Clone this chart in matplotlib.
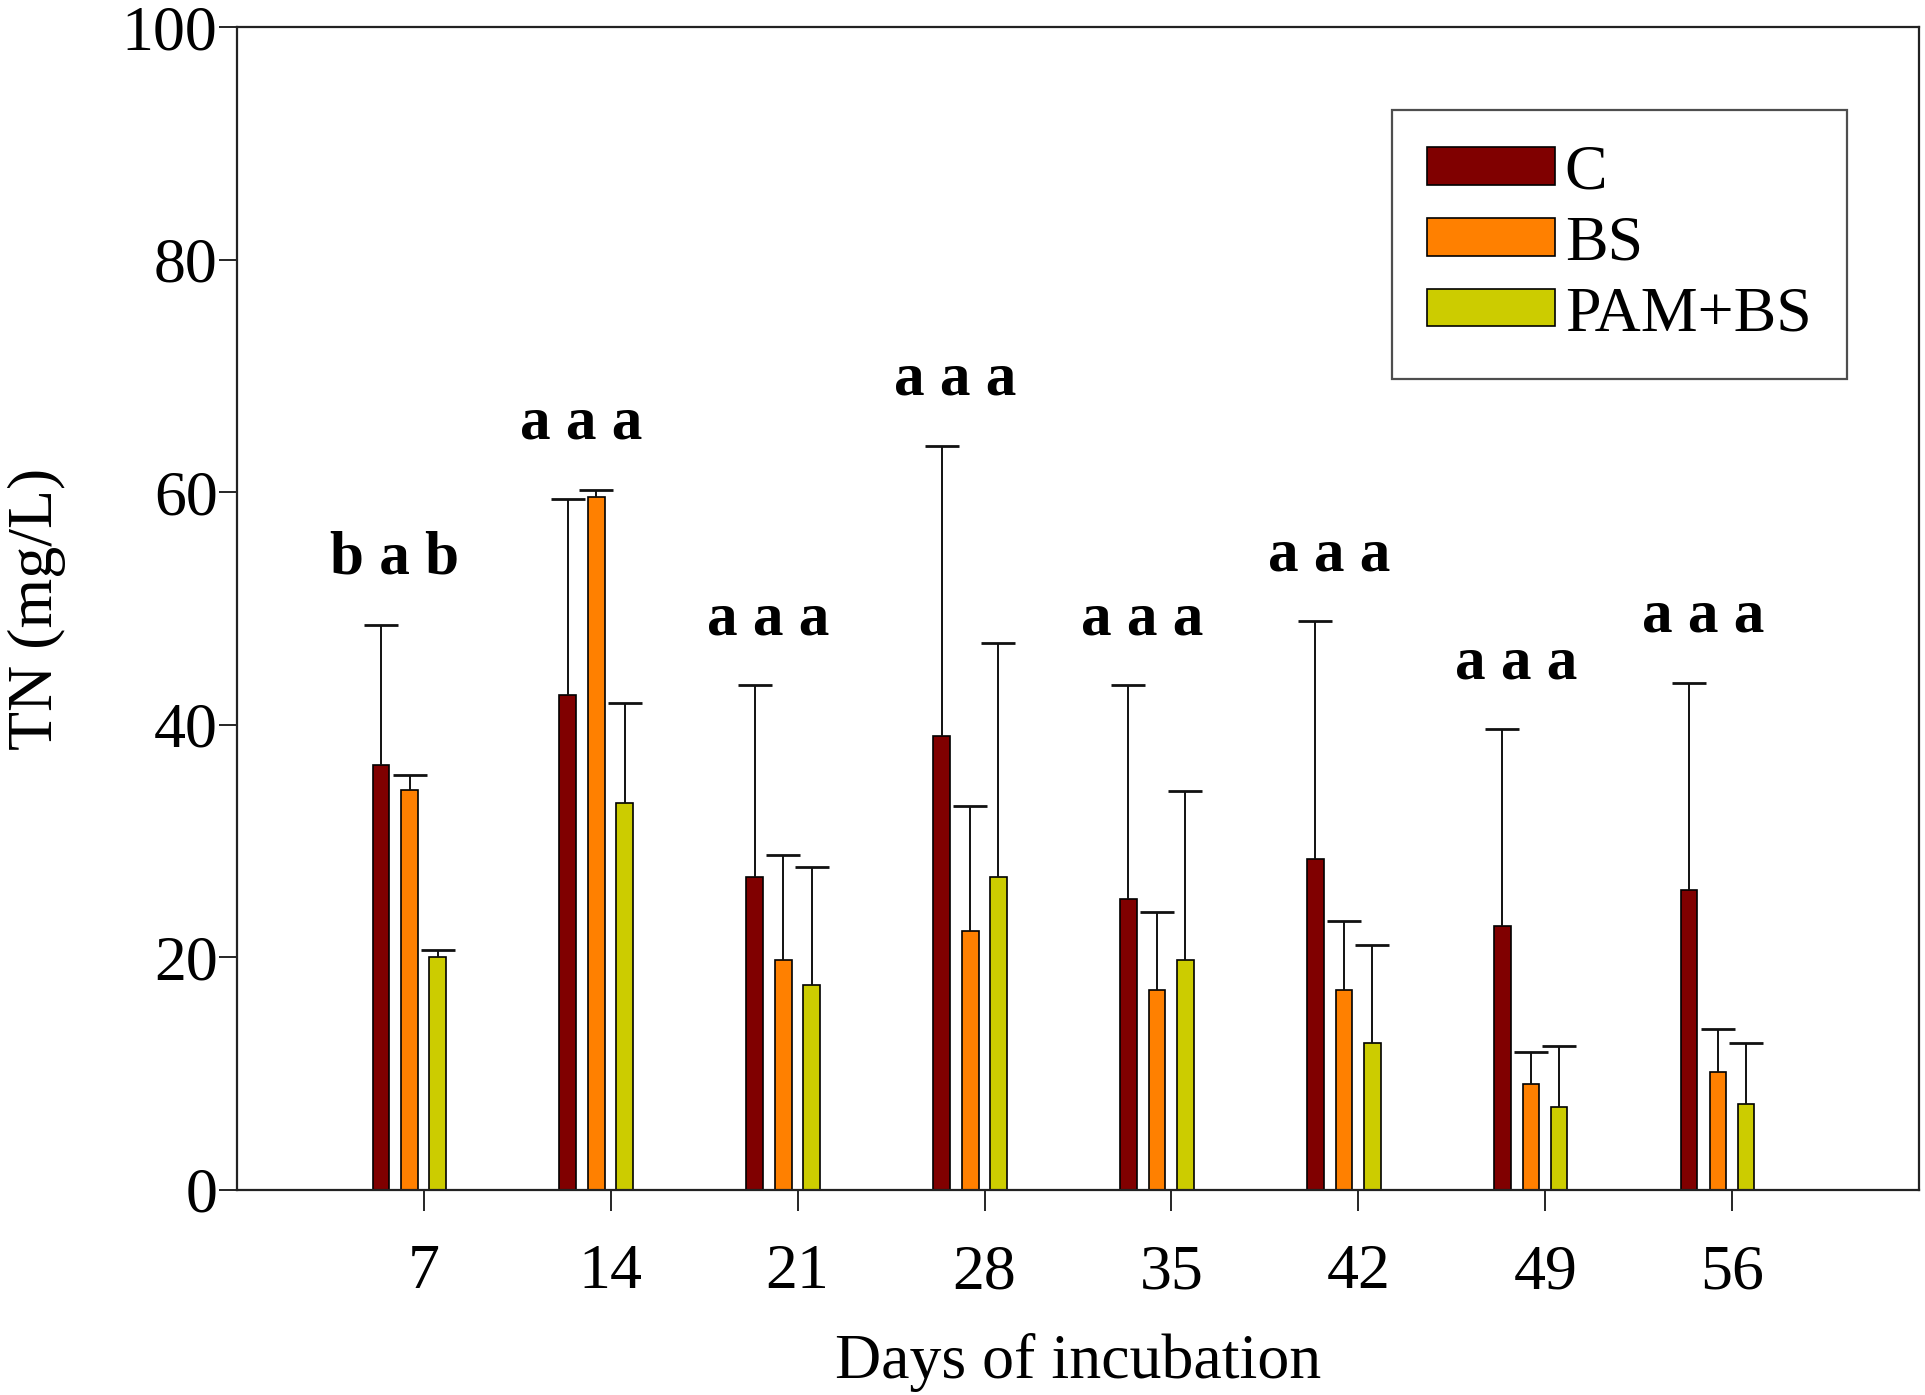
import matplotlib
matplotlib.use("Agg")
import matplotlib.pyplot as plt
import numpy as np

plt.rcParams['font.family'] = ['Liberation Serif', 'DejaVu Serif']

days = [7, 14, 21, 28, 35, 42, 49, 56]
series = ["C", "BS", "PAM+BS"]

c_mean = [36.5, 42.6, 26.9, 39.0, 25.0, 28.5, 22.7, 25.8]
c_sd = [12.1, 16.8, 16.5, 25.0, 18.4, 20.4, 16.9, 17.8]
bs_mean = [34.4, 59.6, 19.8, 22.3, 17.2, 17.2, 9.1, 10.1]
bs_sd = [1.3, 0.6, 9.0, 10.7, 6.7, 5.9, 2.8, 3.7]
pam_mean = [20.0, 33.3, 17.6, 26.9, 19.8, 12.6, 7.1, 7.4]
pam_sd = [0.6, 8.6, 10.2, 20.1, 14.5, 8.5, 5.3, 5.2]

letters = ["b a b", "a a a", "a a a", "a a a", "a a a", "a a a", "a a a", "a a a"]

colors = ["#800000", "#FF8000", "#CCCC00"]
offsets = [-1.61, -0.535, 0.52]
width = 0.62

fig = plt.figure(figsize=(19.25, 13.95), dpi=100)
ax = fig.add_axes([0.1231, 0.147, 0.8738, 0.8336])

x = np.array(days, dtype=float)
means = [c_mean, bs_mean, pam_mean]
sds = [c_sd, bs_sd, pam_sd]
handles = []
for k in range(3):
    m = np.array(means[k])
    s = np.array(sds[k])
    b = ax.bar(x + offsets[k], m, width, color=colors[k], edgecolor="black",
               linewidth=1.2, label=series[k], zorder=2)
    eb = ax.errorbar(x + offsets[k], m, yerr=[np.zeros_like(s), s], fmt="none",
                     ecolor="#111111", elinewidth=1.4, capsize=12, capthick=2.0,
                     zorder=3)
    # only the upper cap is wanted
    for cap in eb[1]:
        if np.allclose(cap.get_ydata(), m):
            cap.set_visible(False)
    handles.append(b)

tops = np.max([np.array(means[k]) + np.array(sds[k]) for k in range(3)], axis=0)
for i, d in enumerate(days):
    ax.text(d - 1.1, tops[i] + 4.4, letters[i], ha="center", va="baseline",
            fontsize=44, fontweight="bold")

ax.set_xlim(0, 63)
ax.set_ylim(0, 100)
ax.set_xticks(days)
ax.set_xticklabels([str(d) for d in days])
ax.set_yticks([0, 20, 40, 60, 80, 100])

for sp in ax.spines.values():
    sp.set_linewidth(1.6)
    sp.set_color("#222222")

ax.tick_params(axis="x", direction="out", length=15, width=1.2, pad=24,
               labelsize=46, top=False)
ax.tick_params(axis="y", direction="out", length=13, width=1.2, pad=1,
               labelsize=46, right=False)

ax.set_xlabel("Days of incubation", fontsize=46, labelpad=22)
ax.set_ylabel("TN (mg/L)", fontsize=46, labelpad=40)

leg = ax.legend(handles=handles, loc="upper right", bbox_to_anchor=(0.957, 0.929),
                borderaxespad=0, fontsize=46, handlelength=2.0, handleheight=0.52,
                handletextpad=0.15, labelspacing=0.2, borderpad=0.55,
                fancybox=False, frameon=True)
leg.get_frame().set_edgecolor("#222222")
leg.get_frame().set_linewidth(1.6)

fig.savefig("out.png", dpi=100)
